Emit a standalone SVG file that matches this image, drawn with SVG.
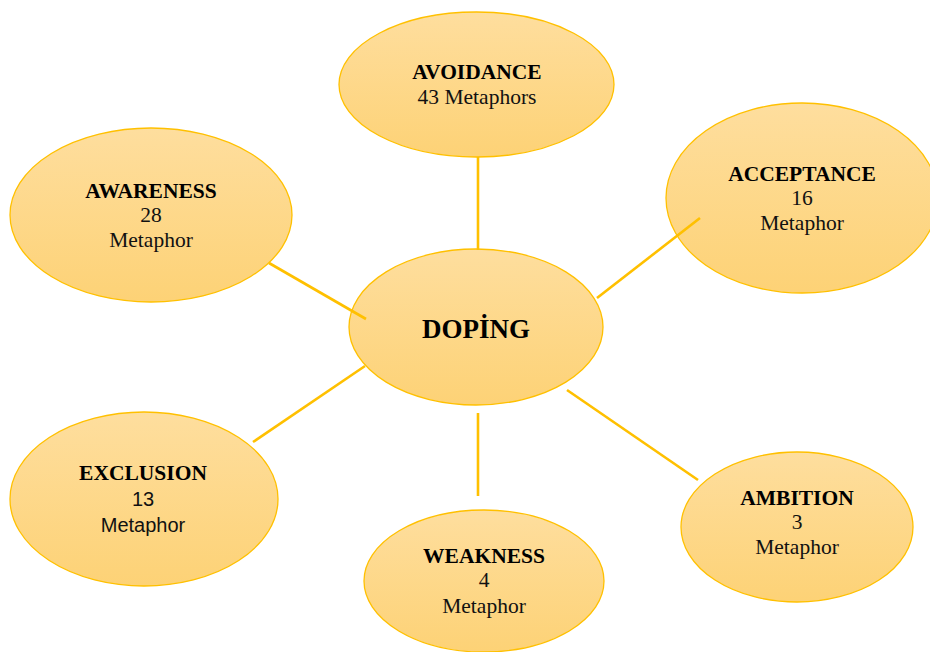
<svg xmlns="http://www.w3.org/2000/svg" width="930" height="652" viewBox="0 0 930 652">
<defs>
<linearGradient id="g" x1="0" y1="0" x2="0" y2="1">
<stop offset="0" stop-color="#FEDE9E"/>
<stop offset="1" stop-color="#FDD276"/>
</linearGradient>
<style>
.n{fill:url(#g);stroke:#FFC000;stroke-width:1.3}
.c{stroke:#FFC000;stroke-width:2.6;fill:none}
.t{font-family:"Liberation Serif","Times New Roman",serif;font-size:21.5px;font-weight:bold;text-anchor:middle;fill:#000}
.r{font-family:"Liberation Serif","Times New Roman",serif;font-size:21.5px;text-anchor:middle;fill:#111}
.s{font-family:"Liberation Sans",Arial,sans-serif;font-size:20px;text-anchor:middle;fill:#111}
.d{font-family:"Liberation Serif","Times New Roman",serif;font-size:27px;font-weight:bold;text-anchor:middle;fill:#000}
</style>
</defs>
<rect width="930" height="652" fill="#fff"/>
<g id="avoidance">
<ellipse class="n" cx="476.5" cy="84.5" rx="137.5" ry="72.5"/>
<text class="t" x="477" y="79">AVOIDANCE</text>
<text class="r" x="477" y="104">43 Metaphors</text>
</g>
<g id="acceptance">
<ellipse class="n" cx="802" cy="198" rx="136" ry="95"/>
<text class="t" x="802" y="181">ACCEPTANCE</text>
<text class="r" x="802" y="205">16</text>
<text class="r" x="802" y="230">Metaphor</text>
</g>
<g id="awareness">
<ellipse class="n" cx="151" cy="215" rx="141" ry="87"/>
<text class="t" x="151" y="198">AWARENESS</text>
<text class="r" x="151" y="222">28</text>
<text class="r" x="151" y="247">Metaphor</text>
</g>
<g id="doping">
<ellipse class="n" cx="476" cy="327" rx="127" ry="78"/>
<text class="d" x="476" y="338">DOPİNG</text>
</g>
<g id="exclusion">
<ellipse class="n" cx="144" cy="499" rx="134" ry="87"/>
<text class="t" x="143" y="480">EXCLUSION</text>
<text class="s" x="143" y="506">13</text>
<text class="s" x="143" y="532">Metaphor</text>
</g>
<g id="weakness">
<ellipse class="n" cx="484" cy="581" rx="120" ry="71"/>
<text class="t" x="484" y="563">WEAKNESS</text>
<text class="r" x="484" y="587">4</text>
<text class="r" x="484" y="613">Metaphor</text>
</g>
<g id="ambition">
<ellipse class="n" cx="797" cy="527" rx="116" ry="75"/>
<text class="t" x="797" y="505">AMBITION</text>
<text class="r" x="797" y="529">3</text>
<text class="r" x="797" y="554">Metaphor</text>
</g>
<g id="connectors">
<line class="c" x1="478" y1="157" x2="478" y2="250"/>
<line class="c" x1="597" y1="298" x2="700" y2="218"/>
<line class="c" x1="269" y1="263" x2="366" y2="319"/>
<line class="c" x1="253" y1="442" x2="365" y2="366"/>
<line class="c" x1="478" y1="413" x2="478" y2="496"/>
<line class="c" x1="567" y1="390" x2="698" y2="480"/>
</g>
</svg>
